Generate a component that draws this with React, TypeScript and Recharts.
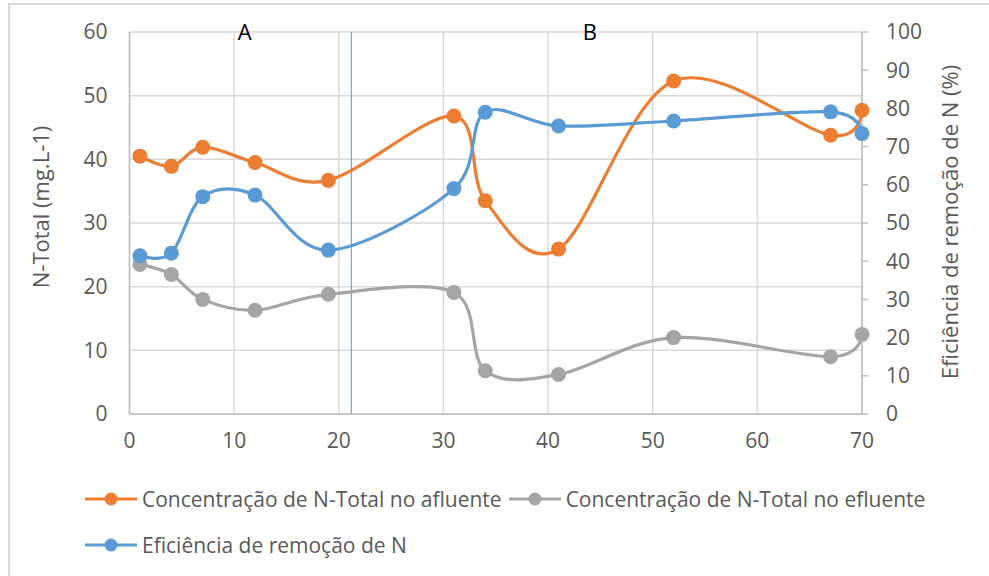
import React from 'react';
import { LineChart, Line, XAxis, YAxis, CartesianGrid, ReferenceLine, ReferenceDot, Label } from 'recharts';

const days = [1, 4, 7, 12, 19, 31, 34, 41, 52, 67, 70];
const afluente = [40.5, 38.9, 41.9, 39.5, 36.7, 46.8, 33.5, 25.9, 52.3, 43.8, 47.7];
const efluente = [23.5, 21.9, 18.0, 16.3, 18.8, 19.1, 6.8, 6.2, 12.0, 9.0, 12.5];
const eficiencia = [41.4, 42.1, 56.9, 57.3, 42.9, 59.0, 79.0, 75.4, 76.7, 79.1, 73.4];

const xTicks = [0, 10, 20, 30, 40, 50, 60, 70];
const leftTicks = [0, 10, 20, 30, 40, 50, 60];
const rightTicks = [0, 10, 20, 30, 40, 50, 60, 70, 80, 90, 100];

const phaseBoundary = 21.2;
const phaseLabels = [
  { x: 11, label: 'A' },
  { x: 44, label: 'B' },
];

const seriesNames = [
  'Concentração de N-Total no afluente',
  'Concentração de N-Total no efluente',
  'Eficiência de remoção de N',
];
const seriesColors = ['#ed7d31', '#a5a5a5', '#5b9bd5'];
const leftTitle = 'N-Total (mg.L-1)';
const rightTitle = 'Eficiência de remoção de N (%)';

const data = days.map((d, i) => ({
  day: d,
  afluente: afluente[i],
  efluente: efluente[i],
  eficiencia: eficiencia[i],
}));

const FONT = '"Open Sans", sans-serif';
const TEXT = '#595959';

// Catmull-Rom style smoothing (like spreadsheet "smoothed line")
function smoothCurve(context: any) {
  const k = 1 / 6;
  let x0 = NaN, x1 = NaN, x2 = NaN, y0 = NaN, y1 = NaN, y2 = NaN;
  let pt = 0;
  let line: number = NaN;
  const seg = (x: number, y: number) => {
    context.bezierCurveTo(
      x1 + k * (x2 - x0),
      y1 + k * (y2 - y0),
      x2 + k * (x1 - x),
      y2 + k * (y1 - y),
      x2,
      y2
    );
  };
  return {
    areaStart() { line = 0; },
    areaEnd() { line = NaN; },
    lineStart() {
      x0 = x1 = x2 = y0 = y1 = y2 = NaN;
      pt = 0;
    },
    lineEnd() {
      switch (pt) {
        case 2: context.lineTo(x2, y2); break;
        case 3: seg(x1, y1); break;
      }
      if (line || (line !== 0 && pt === 1)) context.closePath();
      line = 1 - line;
    },
    point(x: number, y: number) {
      x = +x; y = +y;
      switch (pt) {
        case 0:
          pt = 1;
          if (line) context.lineTo(x, y); else context.moveTo(x, y);
          break;
        case 1:
          pt = 2;
          x1 = x; y1 = y;
          break;
        case 2:
          pt = 3;
          seg(x, y);
          break;
        default:
          seg(x, y);
          break;
      }
      x0 = x1; x1 = x2; x2 = x;
      y0 = y1; y1 = y2; y2 = y;
    },
  };
}

const leftTitleContent = (props: any) => {
  const vb = props.viewBox || { x: 0, y: 32, width: 129, height: 382 };
  const cx = vb.x + 40;
  const cy = vb.y + vb.height / 2 - 16;
  return (
    <text x={cx} y={cy} transform={`rotate(-90 ${cx} ${cy})`} textAnchor="middle" dominantBaseline="central"
      fill={TEXT} fontSize={22} fontFamily={FONT}>
      {leftTitle}
    </text>
  );
};

const rightTitleContent = (props: any) => {
  const vb = props.viewBox || { x: 862, y: 32, width: 127, height: 382 };
  const cx = vb.x + 87;
  const cy = vb.y + vb.height / 2 - 1;
  return (
    <text x={cx} y={cy} transform={`rotate(-90 ${cx} ${cy})`} textAnchor="middle" dominantBaseline="central"
      fill={TEXT} fontSize={22} fontFamily={FONT}>
      {rightTitle}
    </text>
  );
};

const LegendIcon = ({ color }: { color: string }) => (
  <svg width={54} height={16} style={{ display: 'block' }}>
    <line x1={1} y1={8} x2={53} y2={8} stroke={color} strokeWidth={3} />
    <circle cx={27} cy={8} r={6.5} fill={color} />
  </svg>
);

export default function App() {
  const keys = ['afluente', 'efluente', 'eficiencia'];
  const axes = ['left', 'left', 'right'];
  return (
    <div style={{ position: 'absolute', left: 0, top: 0, width: 989, height: 576, overflow: 'hidden', background: '#fff' }}>
      <div style={{ position: 'absolute', left: 8, top: 3, width: 1000, height: 620, border: '2px solid #d9d9d9', boxSizing: 'border-box' }} />
      <div style={{ position: 'absolute', left: 0, top: 0 }}>
        <LineChart width={989} height={576} data={data} margin={{ top: 32, right: 0, bottom: 132, left: 0 }}>
          <CartesianGrid yAxisId="left" stroke="#d9d9d9" strokeWidth={1.5} />
          <XAxis
            dataKey="day"
            type="number"
            domain={[0, 70]}
            ticks={xTicks}
            height={30}
            axisLine={{ stroke: '#bfbfbf', strokeWidth: 1.5 }}
            tickLine={false}
            tickSize={0}
            tickMargin={19}
            tick={{ fill: TEXT, fontSize: 21, fontFamily: FONT }}
            interval={0}
          />
          <YAxis
            yAxisId="left"
            orientation="left"
            domain={[0, 60]}
            ticks={leftTicks}
            width={129.5}
            axisLine={{ stroke: '#bfbfbf', strokeWidth: 1.5 }}
            tickLine={false}
            tickSize={0}
            tickMargin={22}
            tick={{ fill: TEXT, fontSize: 21, fontFamily: FONT }}
            interval={0}
          >
            <Label content={leftTitleContent} />
          </YAxis>
          <YAxis
            yAxisId="right"
            orientation="right"
            domain={[0, 100]}
            ticks={rightTicks}
            width={127}
            axisLine={{ stroke: '#bfbfbf', strokeWidth: 1.5 }}
            tickLine={{ stroke: '#bfbfbf', strokeWidth: 1.5 }}
            tickSize={6}
            tickMargin={18}
            tick={{ fill: TEXT, fontSize: 21, fontFamily: FONT }}
            interval={0}
          >
            <Label content={rightTitleContent} />
          </YAxis>
          <ReferenceLine yAxisId="left" x={phaseBoundary} stroke="#6fa8dc" strokeWidth={1.2} />
          {phaseLabels.map((p) => (
            <ReferenceDot
              key={p.label}
              yAxisId="left"
              x={p.x}
              y={60}
              r={1}
              fill="none"
              stroke="none"
              ifOverflow="visible"
              label={{ value: p.label, position: 'center', fill: '#000', fontSize: 22, fontFamily: FONT }}
            />
          ))}
          {keys.map((k, i) => (
            <Line
              key={k}
              yAxisId={axes[i]}
              dataKey={k}
              name={seriesNames[i]}
              type={smoothCurve as any}
              stroke={seriesColors[i]}
              strokeWidth={3.2}
              dot={{ r: 7.5, fill: seriesColors[i], stroke: seriesColors[i], strokeWidth: 0 }}
              activeDot={false}
              isAnimationActive={false}
            />
          ))}
        </LineChart>
      </div>
      <div
        style={{
          position: 'absolute',
          left: 84,
          top: 486,
          width: 880,
          display: 'flex',
          flexWrap: 'wrap',
          columnGap: 6,
          rowGap: 20,
          fontFamily: FONT,
          fontSize: 21,
          color: TEXT,
        }}
      >
        {seriesNames.map((n, i) => (
          <div key={n} style={{ display: 'flex', alignItems: 'center', height: 26, whiteSpace: 'nowrap' }}>
            <LegendIcon color={seriesColors[i]} />
            <span style={{ marginLeft: 4 }}>{n}</span>
          </div>
        ))}
      </div>
    </div>
  );
}
